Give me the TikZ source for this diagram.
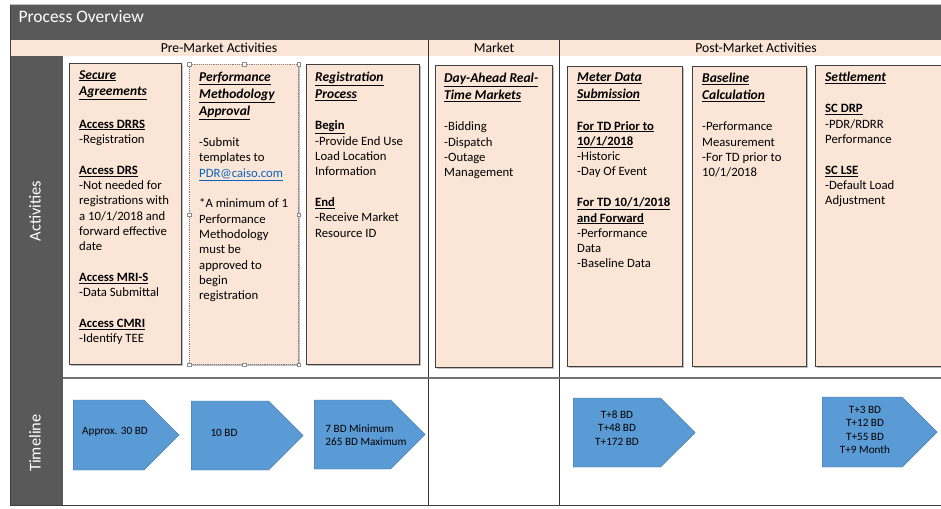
\documentclass[tikz,border=0pt]{standalone}
\usepackage{fontspec}
\setmainfont{Carlito}
\usetikzlibrary{shapes.symbols,shadows}

\definecolor{bandgray}{HTML}{595959}
\definecolor{peach}{HTML}{FBE5D6}
\definecolor{chevblue}{HTML}{5B9BD5}
\definecolor{chevline}{HTML}{41719C}
\definecolor{linkblue}{HTML}{0563C1}

\newcommand{\hd}[1]{{\fontsize{13.5}{15.3}\selectfont\textbf{\textit{\underline{#1}}}}}
\newcommand{\sh}[1]{\textbf{\underline{#1}}}

\tikzset{
  actbox/.style={draw=black!75, fill=peach, line width=0.9pt, anchor=north west, inner sep=0pt,
                 drop shadow={shadow xshift=1.2pt, shadow yshift=-1.2pt, fill=black!25, opacity=1}},
  acttext/.style={anchor=north west, align=left, inner sep=0pt, font=\fontsize{12.7}{15.3}\selectfont},
  chev/.style={signal, signal to=east, signal pointer angle=90, draw=chevline, fill=chevblue,
               inner sep=0pt, anchor=west},
  chevtext/.style={font=\fontsize{11.2}{13.5}\selectfont, align=center},
  sidelabel/.style={rotate=90, text=white, font=\fontsize{16.5}{18}\selectfont},
  headlabel/.style={font=\fontsize{13.7}{15}\selectfont},
  handle/.style={draw=black!45, fill=white, inner sep=0pt, minimum size=3.5pt}
}

\begin{document}
\begin{tikzpicture}[x=1pt,y=-1pt]
   \useasboundingbox (0,0) rectangle (941,508);
   % frame
   \draw[black!25] (10,4) -- (941,4);
   \fill[bandgray] (10,5) rectangle (941,40);
   \fill[peach] (10,40) rectangle (941,56);
   \fill[bandgray] (10,56) rectangle (63,505);
   \draw[black!80, line width=0.8pt] (428,40) -- (428,505) (559,40) -- (559,505);
   \draw[black!55, line width=1.2pt] (63,378) -- (941,378);
   \draw[black!75, line width=1pt] (10,505) -- (941,505) (10,5) -- (10,505);
   \node[anchor=west, text=white, font=\fontsize{17.5}{20}\selectfont] (title) at (15,17) {Process Overview};
   \node[headlabel] (pre)  at (219,48) {Pre-Market Activities};
   \node[headlabel] (mkt)  at (494,48) {Market};
   \node[headlabel] (post) at (756,48) {Post-Market Activities};
   \node[sidelabel] (act)  at (35,211) {Activities};
   \node[sidelabel] (time) at (35,443) {Timeline};

   % activity boxes
   \node[actbox, minimum width=112, minimum height=301] (sec)  at (69,63)  {};
   \node[actbox, minimum width=109, minimum height=300, draw=black!50, densely dotted, drop shadow={opacity=0}] (perf) at (189,64) {};
   \node[actbox, minimum width=113, minimum height=300] (reg)  at (306,64) {};
   \node[actbox, minimum width=117, minimum height=302] (dam)  at (435,65) {};
   \node[actbox, minimum width=115, minimum height=300] (mds)  at (567,66) {};
   \node[actbox, minimum width=114, minimum height=300] (base) at (692,66) {};
   \node[actbox, minimum width=150, minimum height=301] (set)  at (815,65) {};
   \foreach \a in {north west,north,north east,east,south east,south,south west,west}
      \node[handle] (h-\a) at (perf.\a) {};

   \node[acttext] (sectx) at ([shift={(10,7)}]sec.north west) {\hd{Secure}\\[1.5pt]\hd{Agreements}\\[17pt]
      \sh{Access DRRS}\\-Registration\\[15.5pt]
      \sh{Access DRS}\\-Not needed for\\registrations with\\a 10/1/2018 and\\forward effective\\date\\[15.5pt]
      \sh{Access MRI-S}\\-Data Submittal\\[15.5pt]
      \sh{Access CMRI}\\-Identify TEE};
   \node[acttext] (perftx) at ([shift={(10,8)}]perf.north west) {\hd{Performance}\\[1.5pt]\hd{Methodology}\\[1.5pt]\hd{Approval}\\[16pt]
      -Submit\\templates to\\\textcolor{linkblue}{\underline{PDR@caiso.com}}\\[15.5pt]
      *A minimum of 1\\Performance\\Methodology\\must be\\approved to\\begin\\registration};
   \node[acttext] (regtx) at ([shift={(9,8)}]reg.north west) {\hd{Registration}\\[1.5pt]\hd{Process}\\[16pt]
      \sh{Begin}\\-Provide End Use\\Load Location\\Information\\[15.5pt]
      \sh{End}\\-Receive Market\\Resource ID};
   \node[acttext] (damtx) at ([shift={(9,8)}]dam.north west) {\hd{Day-Ahead Real-}\\[1.5pt]\hd{Time Markets}\\[16pt]
      -Bidding\\-Dispatch\\-Outage\\Management};
   \node[acttext] (mdstx) at ([shift={(10,7)}]mds.north west) {\hd{Meter Data}\\[1.5pt]\hd{Submission}\\[16pt]
      \sh{For TD Prior to}\\\sh{10/1/2018}\\-Historic\\-Day Of Event\\[15.5pt]
      \sh{For TD 10/1/2018}\\\sh{and Forward}\\-Performance\\Data\\-Baseline Data};
   \node[acttext] (basetx) at ([shift={(10,7)}]base.north west) {\hd{Baseline}\\[1.5pt]\hd{Calculation}\\[16pt]
      -Performance\\Measurement\\-For TD prior to\\10/1/2018};
   \node[acttext] (settx) at ([shift={(10,7)}]set.north west) {\hd{Settlement}\\[16pt]
      \sh{SC DRP}\\-PDR/RDRR\\Performance\\[15.5pt]
      \sh{SC LSE}\\-Default Load\\Adjustment};

   % timeline chevrons
   \node[chev, minimum width=106, minimum height=70] (c1) at (73,435) {};
   \node[chev, minimum width=112, minimum height=69] (c2) at (191,435.5) {};
   \node[chev, minimum width=111, minimum height=69] (c3) at (314,434.5) {};
   \node[chev, minimum width=122, minimum height=69] (c4) at (573,432.5) {};
   \node[chev, minimum width=115, minimum height=70] (c5) at (822,432) {};
   \node[chevtext] (c1tx) at (115,432) {Approx. 30 BD};
   \node[chevtext] (c2tx) at (224,433) {10 BD};
   \node[chevtext, align=left] (c3tx) at (366,435) {7 BD Minimum\\265 BD Maximum};
   \node[chevtext] (c4tx) at (617,428) {T+8 BD\\T+48 BD\\T+172 BD};
   \node[chevtext] (c5tx) at (865,430) {T+3 BD\\T+12 BD\\T+55 BD\\T+9 Month};
\end{tikzpicture}
\end{document}
